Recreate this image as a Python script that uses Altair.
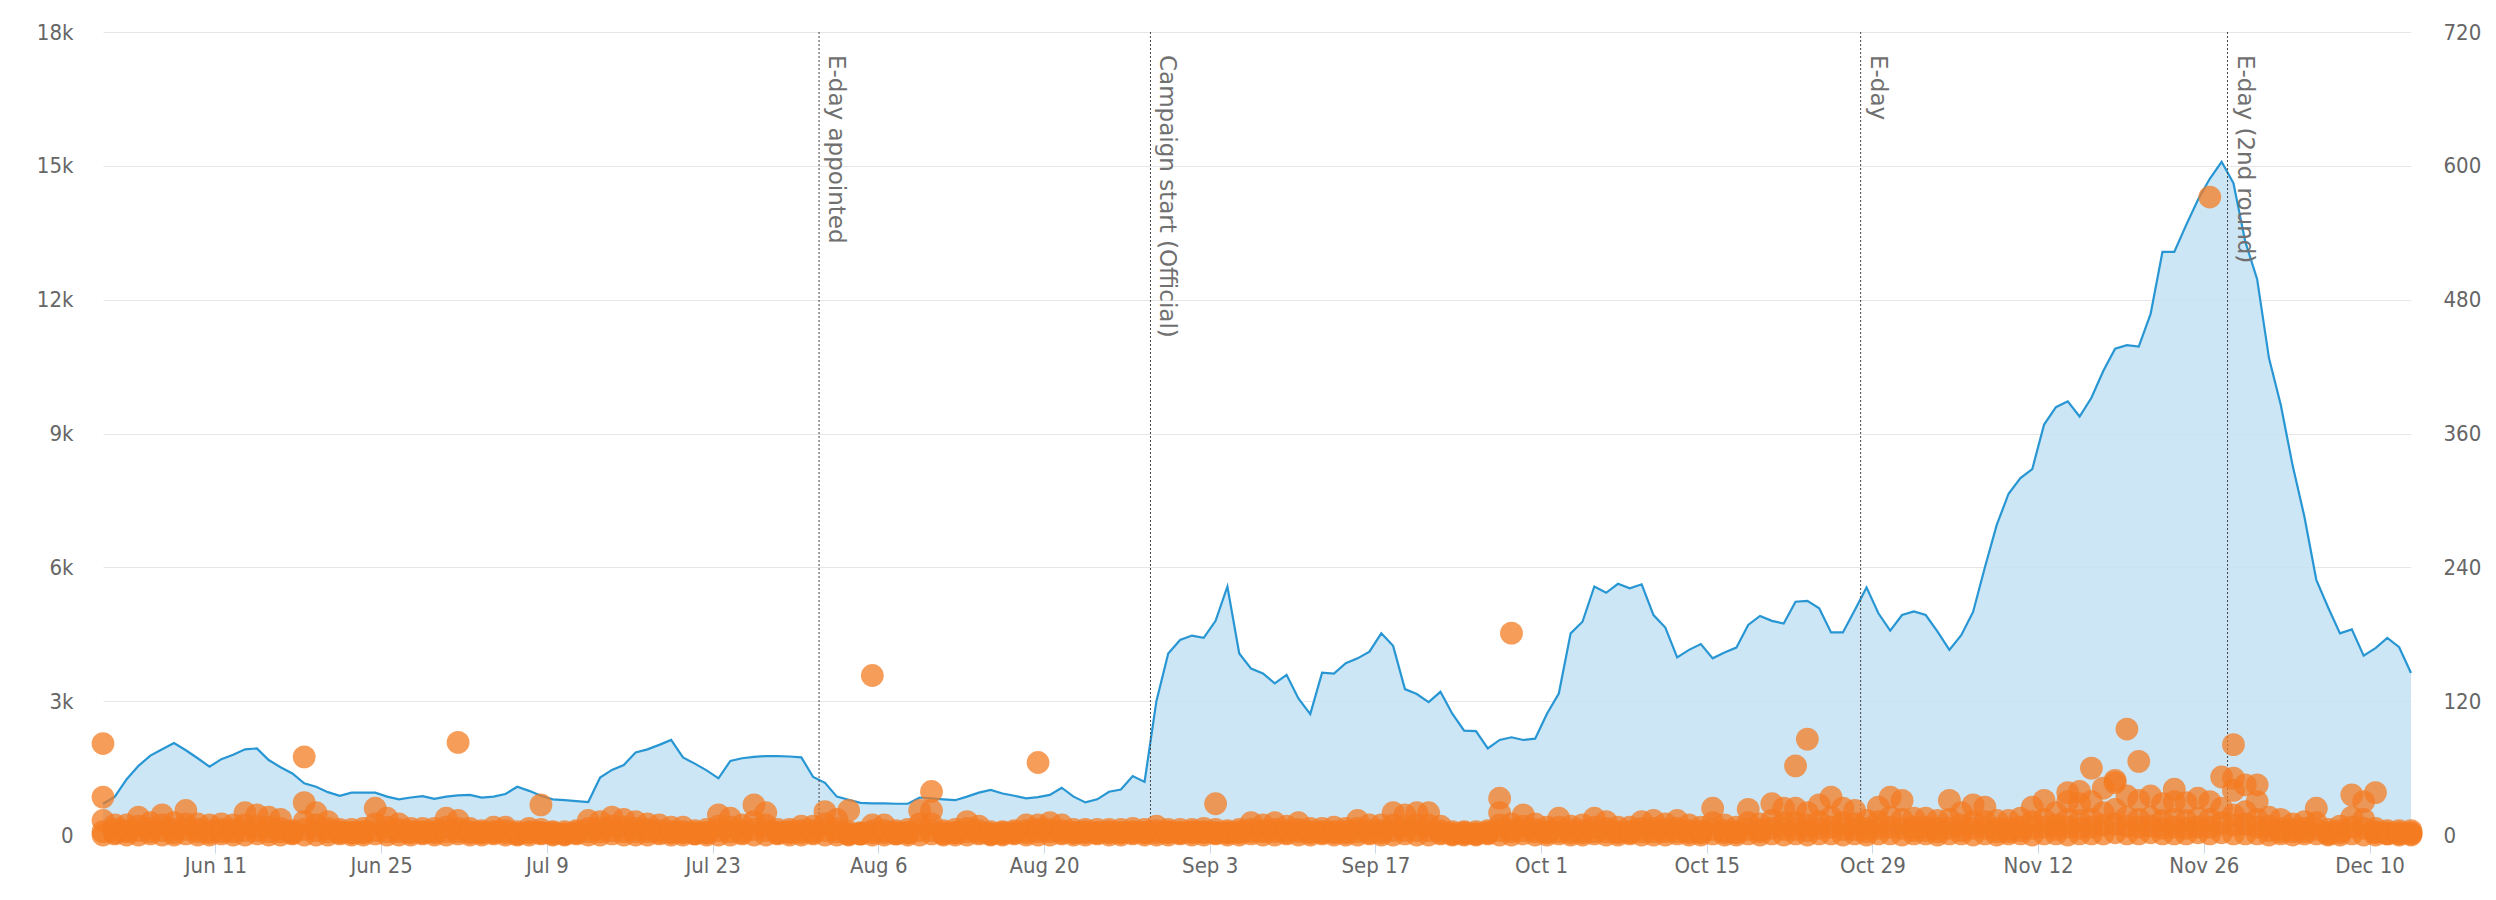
import altair as alt
import pandas as pd

# ---------------- data ----------------
days = pd.date_range("2018-06-01 12:00", periods=196, freq="D")

# daily volume (left axis)
mentions = [
    700, 860, 1250, 1550, 1780, 1920, 2060, 1900, 1720, 1530, 1700, 1800, 1920, 1940,
    1680, 1520, 1380, 1160, 1080, 960, 880, 950, 950, 950, 860, 800, 840, 870,
    810, 860, 890, 900, 840, 860, 920, 1080, 990, 880, 800, 780, 760, 740,
    1290, 1460, 1570, 1850, 1920, 2020, 2130, 1740, 1600, 1450, 1270, 1660, 1720, 1750,
    1770, 1770, 1760, 1740, 1300, 1170, 860, 790, 720, 710, 710, 700, 700, 840,
    820, 800, 780, 860, 950, 1010, 930, 880, 820, 850, 900, 1060, 860, 730,
    800, 970, 1020, 1320, 1190, 3000, 4070, 4370, 4470, 4420, 4800, 5570, 4070, 3730,
    3620, 3400, 3590, 3060, 2710, 3640, 3620, 3850, 3960, 4110, 4520, 4240, 3270, 3160,
    2980, 3210, 2720, 2340, 2330, 1940, 2130, 2190, 2130, 2160, 2720, 3170, 4520, 4780,
    5570, 5430, 5630, 5530, 5620, 4930, 4650, 3980, 4150, 4280, 3960, 4090, 4200, 4710,
    4910, 4800, 4740, 5230, 5250, 5080, 4540, 4540, 5040, 5550, 4970, 4580, 4930, 5010,
    4930, 4560, 4150, 4480, 5000, 6000, 6950, 7650, 8000, 8200, 9200, 9590, 9720, 9380,
    9800, 10400, 10900, 10980, 10950, 11680, 13070, 13070, 13670, 14240, 14710, 15090, 14610, 13300,
    12460, 10690, 9640, 8280, 7130, 5720, 5100, 4520, 4610, 4020, 4190, 4420, 4210, 3630,
]

# individual items (right axis): four readings per day across the dense band
cluster_low = [
    0, 1, 0, 0, 1, 0, 0, 1, 0, 0, 1, 0, 0, 1,
    0, 0, 1, 0, 0, 0, 1, 0, 0, 1, 0, 0, 0, 1,
    0, 0, 1, 0, 0, 1, 0, 0, 0, 1, 0, 0, 1, 0,
    0, 1, 0, 0, 0, 1, 0, 0, 1, 0, 0, 0, 1, 0,
    0, 1, 0, 0, 1, 0, 0, 0, 1, 0, 0, 1, 0, 0,
    1, 0, 0, 0, 1, 0, 0, 1, 0, 0, 0, 1, 0, 0,
    1, 0, 0, 1, 0, 0, 0, 1, 0, 0, 1, 0, 0, 1,
    0, 0, 1, 0, 0, 1, 0, 0, 0, 1, 0, 0, 1, 0,
    0, 1, 0, 0, 0, 1, 0, 0, 1, 0, 0, 1, 0, 0,
    1, 0, 0, 1, 0, 0, 0, 1, 0, 0, 1, 0, 0, 1,
    0, 1, 0, 1, 0, 1, 1, 0, 1, 0, 1, 1, 0, 1,
    1, 0, 1, 1, 0, 1, 0, 1, 1, 0, 1, 1, 0, 1,
    1, 1, 2, 1, 1, 2, 1, 1, 1, 2, 1, 2, 1, 1,
    1, 0, 1, 0, 1, 1, 0, 0, 1, 0, 0, 1, 0, 0,
]
cluster_base = [
    3, 2, 3, 4, 3, 4, 2, 5, 3, 2, 3, 3, 4, 4,
    3, 3, 2, 5, 4, 3, 2, 2, 2, 4, 3, 3, 2, 2,
    2, 3, 3, 2, 2, 2, 2, 1, 2, 2, 1, 1, 2, 3,
    3, 4, 3, 3, 3, 2, 2, 2, 1, 2, 4, 3, 2, 5,
    4, 2, 2, 2, 2, 4, 3, 1, 1, 2, 2, 1, 2, 4,
    4, 1, 2, 3, 2, 1, 1, 2, 2, 3, 3, 2, 2, 2,
    2, 2, 2, 2, 2, 2, 2, 2, 2, 2, 2, 2, 2, 3,
    3, 3, 2, 3, 2, 2, 2, 2, 3, 2, 2, 4, 4, 4,
    4, 2, 1, 1, 1, 2, 4, 3, 4, 3, 2, 3, 2, 2,
    3, 3, 2, 2, 3, 3, 3, 3, 2, 2, 5, 2, 2, 5,
    3, 6, 5, 5, 4, 6, 7, 5, 5, 3, 6, 7, 6, 4,
    4, 3, 6, 4, 6, 6, 3, 3, 4, 6, 7, 5, 7, 6,
    7, 9, 10, 8, 7, 8, 6, 7, 6, 7, 7, 11, 9, 10,
    7, 4, 3, 3, 3, 5, 1, 2, 7, 6, 2, 1, 1, 1,
]
cluster_mid = [
    13, 5, 4, 8, 6, 9, 5, 10, 5, 4, 5, 5, 9, 8,
    7, 6, 2, 12, 9, 6, 3, 2, 3, 10, 7, 5, 3, 3,
    3, 7, 6, 3, 2, 3, 4, 1, 3, 2, 2, 1, 2, 6,
    6, 8, 7, 6, 5, 4, 3, 3, 2, 2, 8, 7, 4, 12,
    9, 2, 3, 4, 4, 10, 6, 1, 1, 4, 4, 2, 2, 10,
    10, 2, 2, 6, 4, 1, 2, 2, 4, 5, 5, 4, 2, 3,
    2, 3, 2, 3, 2, 4, 3, 2, 3, 3, 2, 2, 3, 5,
    4, 5, 4, 5, 3, 3, 3, 3, 6, 4, 4, 9, 8, 9,
    9, 4, 1, 2, 1, 2, 9, 5, 8, 5, 3, 7, 4, 4,
    7, 6, 3, 3, 6, 6, 5, 6, 4, 3, 11, 4, 3, 11,
    5, 13, 11, 11, 9, 12, 16, 11, 10, 6, 12, 16, 14, 7,
    7, 6, 14, 9, 12, 12, 6, 6, 7, 12, 14, 9, 14, 13,
    14, 20, 23, 16, 14, 16, 13, 14, 13, 15, 14, 24, 18, 21,
    14, 8, 6, 5, 6, 11, 2, 4, 16, 14, 3, 2, 2, 2,
]
cluster_high = [
    34, 9, 9, 16, 11, 18, 11, 22, 10, 9, 10, 9, 20, 18,
    16, 14, 4, 29, 20, 12, 5, 5, 6, 24, 15, 10, 6, 6,
    6, 15, 13, 6, 4, 7, 7, 3, 6, 5, 3, 3, 4, 13,
    12, 16, 14, 12, 10, 9, 7, 7, 4, 5, 18, 15, 9, 27,
    20, 5, 5, 8, 8, 21, 14, 3, 2, 9, 9, 4, 5, 22,
    22, 4, 5, 12, 8, 3, 3, 4, 9, 9, 11, 9, 5, 5,
    5, 5, 5, 6, 5, 8, 5, 5, 5, 6, 5, 4, 5, 11,
    9, 11, 8, 11, 6, 6, 7, 6, 13, 9, 9, 20, 18, 20,
    20, 8, 3, 3, 3, 4, 20, 10, 18, 10, 7, 15, 8, 9,
    15, 12, 7, 7, 12, 13, 10, 13, 9, 7, 24, 9, 7, 23,
    10, 28, 24, 24, 20, 27, 34, 24, 22, 13, 25, 34, 31, 15,
    15, 13, 31, 20, 27, 25, 13, 13, 15, 25, 31, 20, 30, 28,
    30, 42, 49, 35, 31, 35, 28, 30, 29, 33, 30, 52, 40, 45,
    30, 16, 14, 10, 12, 24, 5, 8, 36, 30, 6, 4, 4, 4,
]
# stand-out items (day index from Jun 1, value)
spike_day = [0, 17, 30, 37, 63, 65, 70, 79, 94, 118, 119, 143, 144,
             166, 167, 168, 170, 171, 172, 175, 178, 180, 180, 182, 192]
spike_value = [82, 70, 83, 27, 22, 143, 39, 65, 28, 33, 181, 62, 86,
               38, 39, 60, 47, 95, 66, 41, 572, 81, 51, 45, 38]

event_dates = ["2018-08-01", "2018-08-29", "2018-10-28", "2018-11-28"]
event_labels = ["E-day appointed", "Campaign start (Official)", "E-day", "E-day (2nd round)"]

tick_dates = ["2018-06-11", "2018-06-25", "2018-07-09", "2018-07-23", "2018-08-06",
              "2018-08-20", "2018-09-03", "2018-09-17", "2018-10-01", "2018-10-15",
              "2018-10-29", "2018-11-12", "2018-11-26", "2018-12-10"]
left_ticks = [0, 3000, 6000, 9000, 12000, 15000, 18000]
right_ticks = [0, 120, 240, 360, 480, 600, 720]

# ---------------- tables ----------------
area_df = pd.DataFrame({"date": days, "mentions": mentions})

pts = []
for i, d in enumerate(days):
    for v in (cluster_low[i], cluster_base[i], cluster_mid[i], cluster_high[i]):
        pts.append({"date": d, "items": v})
for di, v in zip(spike_day, spike_value):
    pts.append({"date": days[di], "items": v})
pts_df = pd.DataFrame(pts)

ev_df = pd.DataFrame({"date": pd.to_datetime(event_dates), "label": event_labels})

tick_vals = [alt.DateTime(year=t.year, month=t.month, date=t.day)
             for t in pd.to_datetime(tick_dates)]

LABEL_FONT = "DejaVu Sans Condensed, DejaVu Sans"
x_scale = alt.Scale(domain=[alt.DateTime(year=2018, month=6, date=1, hours=12),
                            alt.DateTime(year=2018, month=12, date=13, hours=12)])

# ---------------- layers ----------------
area = alt.Chart(area_df).mark_area(
    color="#c3e2f5", opacity=0.85,
    line={"color": "#2896d3", "strokeWidth": 2.2},
).encode(
    x=alt.X("date:T", scale=x_scale, title=None,
            axis=alt.Axis(values=tick_vals, format="%b %-d", grid=False, domain=False,
                          tickColor="#ccd6eb", tickSize=18, labelPadding=2,
                          labelFont=LABEL_FONT, labelFontSize=22, labelColor="#666666")),
    y=alt.Y("mentions:Q", scale=alt.Scale(domain=[0, 18000], nice=False), title=None,
            axis=alt.Axis(orient="left", values=left_ticks, grid=True, gridColor="#e6e6e6",
                          domain=False, ticks=False, labelPadding=30,
                          labelExpr="datum.value == 0 ? '0' : (datum.value / 1000) + 'k'",
                          labelFont=LABEL_FONT, labelFontSize=22, labelColor="#666666")),
)

rules = alt.Chart(ev_df).mark_rule(
    color="#444444", strokeWidth=1, strokeDash=[2, 2]
).encode(x=alt.X("date:T", scale=x_scale, title=None))

texts = alt.Chart(ev_df).mark_text(
    angle=90, align="left", baseline="bottom", dx=23, dy=-5,
    font="DejaVu Sans", fontSize=23, color="#707070",
).encode(
    x=alt.X("date:T", scale=x_scale, title=None),
    y=alt.value(0),
    text="label:N",
)

points = alt.Chart(pts_df).mark_circle(
    color="#f47b20", opacity=0.74, size=520
).encode(
    x=alt.X("date:T", scale=x_scale, title=None),
    y=alt.Y("items:Q", scale=alt.Scale(domain=[0, 720], nice=False), title=None,
            axis=alt.Axis(orient="right", values=right_ticks, grid=False, domain=False,
                          ticks=False, labelPadding=32,
                          labelFont=LABEL_FONT, labelFontSize=22, labelColor="#666666")),
)

chart = alt.layer(area, rules, texts, points).resolve_scale(y="independent").properties(
    width=2308, height=803,
    autosize=alt.AutoSizeParams(type="none"),
    padding={"left": 95, "top": 24, "right": 76, "bottom": 50},
).configure_view(strokeWidth=0)

chart.save("out.html", embed_options={"renderer": "svg", "actions": False})
